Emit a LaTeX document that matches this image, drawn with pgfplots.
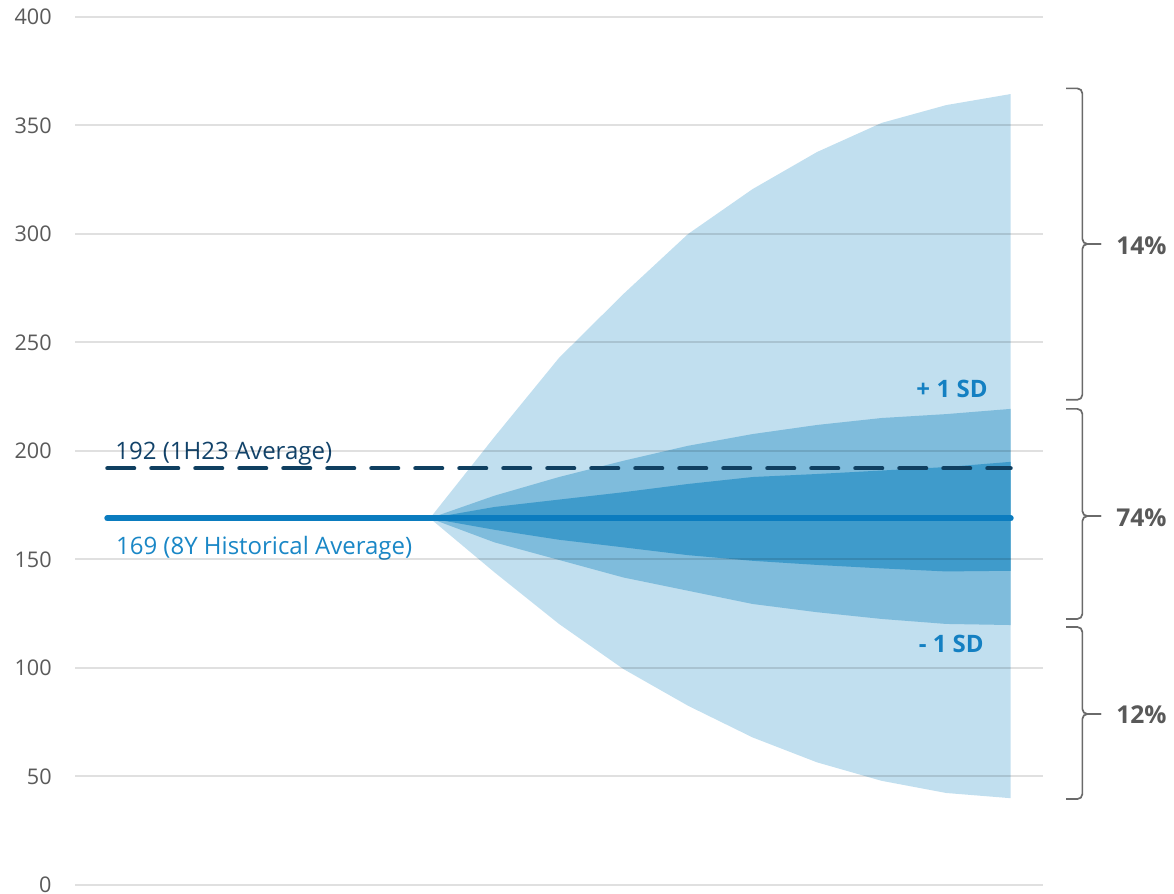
\documentclass[border=0pt]{standalone}
\usepackage{pgfplots}
\pgfplotsset{compat=1.18}
\usepgfplotslibrary{fillbetween}
\usepackage{pgfplotstable}
\usepackage{fontspec}
\setmainfont{Open Sans}

\definecolor{outerc}{HTML}{C1DFEF}
\definecolor{midc}{HTML}{7FBCDC}
\definecolor{innerc}{HTML}{3F9BCB}
\definecolor{solidc}{HTML}{0B7CBF}
\definecolor{dashc}{HTML}{0F3F60}
\definecolor{navytxt}{HTML}{12436A}
\definecolor{bluetxt}{HTML}{1A87C6}
\definecolor{sdtxt}{HTML}{1480C2}
\definecolor{tickgray}{HTML}{5A5A5A}
\definecolor{pctgray}{HTML}{595959}
\definecolor{bracegray}{HTML}{6A6A6A}

\pgfplotstableread{
x  outU   outL   midU   midL   inU    inL
5  169.0  169.0  169.0  169.0  169.0  169.0
6  206.5  144.1  179.4  157.9  174.2  163.7
7  242.9  120.3  188.0  149.8  177.6  159.1
8  272.4   99.5  195.5  141.7  181.0  155.6
9  300.0   82.6  202.4  135.6  184.8  152.0
10 320.7   68.0  207.8  129.5  188.0  149.4
11 337.8   56.5  212.0  125.7  189.4  147.5
12 351.2   48.0  215.2  122.6  191.0  145.9
13 359.4   42.4  217.0  120.3  192.6  144.5
14 364.5   40.0  219.4  119.8  195.0  144.8
}\fan

\begin{document}
\begin{tikzpicture}
\begin{axis}[
  at={(0pt,0pt)}, anchor=south west,
  scale only axis, width=484pt, height=434pt,
  xmin=-0.5, xmax=14.5, ymin=0, ymax=400,
  ytick={0,50,...,400}, xtick=\empty,
  axis line style={draw=none}, tick style={draw=none}, major tick length=0pt,
  ymajorgrids, major grid style={black, opacity=0.12, line width=1pt},
  axis on top, clip=false,
  /pgf/number format/assume math mode=true,
  yticklabel style={font=\fontsize{10.8}{13}\selectfont, text=tickgray, inner sep=0pt, xshift=-11.5pt},
]
\addplot[name path=oU, draw=none] table[x=x,y=outU]{\fan};
\addplot[name path=oL, draw=none] table[x=x,y=outL]{\fan};
\addplot[fill=outerc, draw=none] fill between[of=oU and oL];
\addplot[name path=mU, draw=none] table[x=x,y=midU]{\fan};
\addplot[name path=mL, draw=none] table[x=x,y=midL]{\fan};
\addplot[fill=midc, draw=none] fill between[of=mU and mL];
\addplot[name path=iU, draw=none] table[x=x,y=inU]{\fan};
\addplot[name path=iL, draw=none] table[x=x,y=inL]{\fan};
\addplot[fill=innerc, draw=none] fill between[of=iU and iL];

\addplot[dashc, line width=2pt, line cap=round, dash pattern=on 13.5pt off 8.5pt] coordinates {(0,192) (14,192)};
\addplot[solidc, line width=3pt, line cap=round] coordinates {(0,169) (14,169)};

\node[anchor=base west, inner sep=0pt, text=navytxt, font=\fontsize{12}{14}\selectfont] at (axis cs:0.12,196.3) {192 (1H23 Average)};
\node[anchor=base west, inner sep=0pt, text=bluetxt, font=\fontsize{12}{14}\selectfont] at (axis cs:0.13,152.5) {169 (8Y Historical Average)};
\node[anchor=base west, inner sep=0pt, text=sdtxt, font=\bfseries\fontsize{12}{14}\selectfont] at (axis cs:12.53,224.7) {+\hspace{0.28em}1 SD};
\node[anchor=base west, inner sep=0pt, text=sdtxt, font=\bfseries\fontsize{12}{14}\selectfont] at (axis cs:12.57,107.2) {- 1 SD};

% braces
\draw[bracegray, line width=0.85pt, rounded corners=2.5pt] (axis cs:14.86,367.1) -- (axis cs:15.11,367.1) -- (axis cs:15.11,295.4) -- (axis cs:15.40,295.4);
\draw[bracegray, line width=0.85pt, rounded corners=2.5pt] (axis cs:14.86,223.6) -- (axis cs:15.11,223.6) -- (axis cs:15.11,295.4) -- (axis cs:15.40,295.4);
\draw[bracegray, line width=0.85pt, rounded corners=2.5pt] (axis cs:14.86,219.4) -- (axis cs:15.11,219.4) -- (axis cs:15.11,170.0) -- (axis cs:15.40,170.0);
\draw[bracegray, line width=0.85pt, rounded corners=2.5pt] (axis cs:14.86,122.6) -- (axis cs:15.11,122.6) -- (axis cs:15.11,170.0) -- (axis cs:15.40,170.0);
\draw[bracegray, line width=0.85pt, rounded corners=2.5pt] (axis cs:14.86,118.9) -- (axis cs:15.11,118.9) -- (axis cs:15.11,78.8) -- (axis cs:15.40,78.8);
\draw[bracegray, line width=0.85pt, rounded corners=2.5pt] (axis cs:14.86,39.6) -- (axis cs:15.11,39.6) -- (axis cs:15.11,78.8) -- (axis cs:15.40,78.8);

\node[anchor=west, inner sep=0pt, text=pctgray, font=\bfseries\fontsize{12.3}{14}\selectfont] at (axis cs:15.63,294.5) {14\%};
\node[anchor=west, inner sep=0pt, text=pctgray, font=\bfseries\fontsize{12.3}{14}\selectfont] at (axis cs:15.63,169.1) {74\%};
\node[anchor=west, inner sep=0pt, text=pctgray, font=\bfseries\fontsize{12.3}{14}\selectfont] at (axis cs:15.63,78.3) {12\%};
\end{axis}
\pgfresetboundingbox
\path[use as bounding box] (-37.5pt,-4.5pt) rectangle (549.5pt,442.5pt);
\end{tikzpicture}
\end{document}
